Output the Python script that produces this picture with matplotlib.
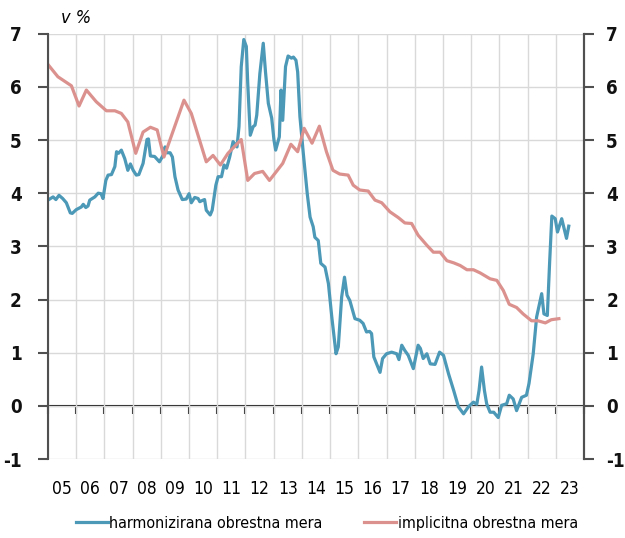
import matplotlib
matplotlib.use('Agg')
import matplotlib.pyplot as plt

plt.rcParams['font.family'] = ['DejaVu Sans']
plt.rcParams['font.stretch'] = 'condensed'

# harmonizirana obrestna mera (leto, %)
harm_x = [2005.0, 2005.18, 2005.28, 2005.39, 2005.52, 2005.65, 2005.79, 2005.86, 2006.0, 2006.18, 2006.25,
          2006.34, 2006.42, 2006.48, 2006.66, 2006.78, 2006.88, 2006.95, 2007.05, 2007.13, 2007.25, 2007.37,
          2007.43, 2007.5, 2007.6, 2007.72, 2007.83, 2007.92, 2008.02, 2008.13, 2008.22, 2008.37, 2008.43,
          2008.51, 2008.56, 2008.63, 2008.78, 2008.95, 2009.09, 2009.15, 2009.21, 2009.33, 2009.41, 2009.5,
          2009.61, 2009.76, 2009.9, 2010.0, 2010.08, 2010.2, 2010.32, 2010.38, 2010.5, 2010.55, 2010.61,
          2010.75, 2010.82, 2010.95, 2011.03, 2011.15, 2011.24, 2011.33, 2011.44, 2011.56, 2011.7, 2011.77,
          2011.85, 2011.94, 2012.03, 2012.08, 2012.17, 2012.27, 2012.34, 2012.4, 2012.51, 2012.63, 2012.71,
          2012.81, 2012.93, 2013.01, 2013.07, 2013.2, 2013.26, 2013.32, 2013.42, 2013.51, 2013.63, 2013.7,
          2013.79, 2013.85, 2013.93, 2014.05, 2014.19, 2014.29, 2014.4, 2014.46, 2014.58, 2014.67, 2014.82,
          2014.94, 2015.06, 2015.21, 2015.29, 2015.41, 2015.51, 2015.6, 2015.7, 2015.88, 2016.05, 2016.17,
          2016.29, 2016.4, 2016.47, 2016.55, 2016.65, 2016.77, 2016.86, 2017.0, 2017.18, 2017.36, 2017.44,
          2017.54, 2017.65, 2017.77, 2017.95, 2018.12, 2018.2, 2018.3, 2018.43, 2018.55, 2018.72, 2018.88,
          2019.02, 2019.2, 2019.38, 2019.55, 2019.73, 2019.9, 2020.08, 2020.2, 2020.28, 2020.37, 2020.47,
          2020.55, 2020.67, 2020.8, 2020.96, 2021.08, 2021.26, 2021.35, 2021.49, 2021.61, 2021.79, 2021.96,
          2022.05, 2022.2, 2022.32, 2022.5, 2022.58, 2022.7, 2022.78, 2022.86, 2022.98, 2023.06, 2023.21,
          2023.38, 2023.46]
harm_y = [3.87, 3.93, 3.88, 3.96, 3.90, 3.82, 3.63, 3.62, 3.69, 3.74, 3.79,
          3.73, 3.76, 3.87, 3.93, 4.00, 3.99, 3.90, 4.24, 4.34, 4.35, 4.50,
          4.78, 4.75, 4.81, 4.65, 4.43, 4.55, 4.43, 4.34, 4.35, 4.56, 4.75,
          5.01, 5.02, 4.70, 4.69, 4.59, 4.72, 4.87, 4.76, 4.76, 4.68, 4.31,
          4.06, 3.88, 3.89, 3.99, 3.82, 3.92, 3.90, 3.84, 3.87, 3.88, 3.68,
          3.59, 3.68, 4.15, 4.31, 4.31, 4.53, 4.47, 4.68, 4.97, 4.87, 5.25,
          6.38, 6.89, 6.76, 6.07, 5.09, 5.25, 5.28, 5.47, 6.25, 6.82, 6.28,
          5.69, 5.41, 5.00, 4.81, 5.06, 5.94, 5.37, 6.38, 6.58, 6.54, 6.56,
          6.50, 6.28, 5.44, 4.75, 3.99, 3.55, 3.37, 3.17, 3.11, 2.68, 2.61,
          2.30, 1.67, 0.98, 1.11, 2.05, 2.42, 2.08, 1.98, 1.64, 1.61, 1.55,
          1.39, 1.40, 1.36, 0.92, 0.79, 0.63, 0.89, 0.98, 1.01, 0.98, 0.87,
          1.14, 1.04, 0.95, 0.70, 1.14, 1.08, 0.89, 0.98, 0.79, 0.78, 1.01,
          0.95, 0.60, 0.29, -0.02, -0.15, -0.02, 0.07, 0.03, 0.29, 0.73, 0.29,
          0.04, -0.12, -0.12, -0.22, 0.01, 0.04, 0.20, 0.13, -0.09, 0.16, 0.20,
          0.42, 0.98, 1.67, 2.11, 1.73, 1.70, 2.68, 3.57, 3.52, 3.27, 3.52,
          3.15, 3.38]

# implicitna obrestna mera (leto, %)
impl_x = [2005.0, 2005.35, 2005.83, 2006.1, 2006.36, 2006.71, 2007.07, 2007.37, 2007.6, 2007.83, 2008.11,
          2008.37, 2008.63, 2008.87, 2009.11, 2009.82, 2010.08, 2010.61, 2010.85, 2011.11, 2011.38, 2011.85,
          2012.08, 2012.32, 2012.61, 2012.85, 2013.32, 2013.61, 2013.85, 2014.08, 2014.36, 2014.62, 2014.87,
          2015.1, 2015.34, 2015.64, 2015.82, 2016.05, 2016.35, 2016.59, 2016.83, 2017.12, 2017.42, 2017.65,
          2017.89, 2018.12, 2018.43, 2018.66, 2018.9, 2019.14, 2019.38, 2019.61, 2019.85, 2020.08, 2020.32,
          2020.67, 2020.91, 2021.14, 2021.35, 2021.61, 2021.84, 2022.14, 2022.37, 2022.63, 2022.84, 2023.11]
impl_y = [6.42, 6.19, 6.02, 5.64, 5.94, 5.72, 5.55, 5.55, 5.50, 5.34, 4.75,
          5.15, 5.24, 5.19, 4.68, 5.75, 5.50, 4.59, 4.71, 4.53, 4.75, 5.01,
          4.24, 4.37, 4.41, 4.24, 4.56, 4.92, 4.78, 5.22, 4.94, 5.26, 4.78,
          4.43, 4.36, 4.34, 4.15, 4.06, 4.04, 3.87, 3.82, 3.65, 3.54, 3.44,
          3.43, 3.21, 3.02, 2.89, 2.89, 2.73, 2.69, 2.64, 2.56, 2.56, 2.50,
          2.39, 2.36, 2.17, 1.91, 1.85, 1.73, 1.60, 1.60, 1.56, 1.62, 1.64]

years = list(range(2005, 2024))
year_labels = ['%02d' % (y % 100) for y in years]
y_ticks = list(range(-1, 8))

blue = '#4b98b7'
red = '#db928e'
axis_col = '#505050'

fig = plt.figure(figsize=(6.25, 5.38), dpi=100)
ax = fig.add_axes([0.0768, 0.1468, 0.8576, 0.7906])

ax.plot(harm_x, harm_y, color=blue, lw=2.3, solid_joinstyle='round', label='harmonizirana obrestna mera')
ax.plot(impl_x, impl_y, color=red, lw=2.3, solid_joinstyle='round', label='implicitna obrestna mera')

ax.set_xlim(2005, 2024)
ax.set_ylim(-1, 7)

# mreza
ax.set_xticks(range(2005, 2025), minor=True)
ax.set_xticks([y + 0.5 for y in years])
ax.set_xticklabels(year_labels, fontsize=12.5)
ax.tick_params(axis='x', which='both', length=0, pad=15)
ax.grid(True, which='minor', axis='x', color='#d9d9d9', lw=1)
ax.set_yticks(y_ticks)
ax.set_yticklabels([str(v) for v in y_ticks], fontsize=13.5, fontweight='bold')
ax.grid(True, which='major', axis='y', color='#d9d9d9', lw=1)
ax.set_axisbelow(True)

for s in ['top', 'bottom']:
    ax.spines[s].set_visible(False)
ax.spines['left'].set_color(axis_col)
ax.spines['left'].set_linewidth(1.5)
ax.spines['right'].set_color(axis_col)
ax.spines['right'].set_linewidth(1.5)
ax.tick_params(axis='y', length=7, width=1.5, color=axis_col, pad=12, labelcolor='#111111')

# os x pri nicli
zero_ax = ax.secondary_xaxis(1 / 8)
zero_ax.set_xticks(range(2005, 2025))
zero_ax.set_xticklabels([])
zero_ax.tick_params(axis='x', direction='out', length=6, width=1.5, color='#222222')
zero_ax.spines['bottom'].set_color('#111111')
zero_ax.spines['bottom'].set_linewidth(1.5)

# desna os
ax2 = ax.twinx()
ax2.set_ylim(-1, 7)
ax2.set_yticks(y_ticks)
ax2.set_yticklabels([str(v) for v in y_ticks], fontsize=13.5, fontweight='bold')
ax2.tick_params(axis='y', length=7, width=1.5, color=axis_col, pad=9, labelcolor='#111111')
for s in ['top', 'bottom', 'left']:
    ax2.spines[s].set_visible(False)
ax2.spines['right'].set_color(axis_col)
ax2.spines['right'].set_linewidth(1.5)

ax.text(0.025, 1.015, 'v %', transform=ax.transAxes, fontsize=13, style='italic', ha='left', va='bottom')

ax.legend(loc='upper center', bbox_to_anchor=(0.52, -0.1), ncol=2, frameon=False, fontsize=11.5,
          handlelength=2.0, handletextpad=0.1, columnspacing=2.6)

fig.savefig('out.png', dpi=100)
